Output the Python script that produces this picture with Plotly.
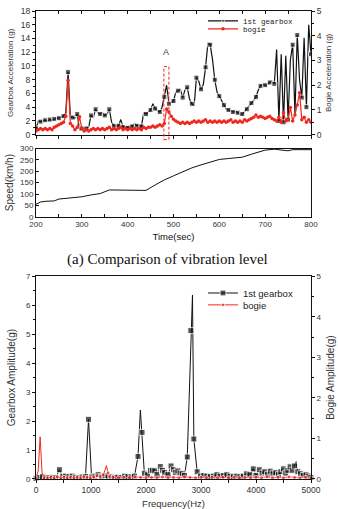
import plotly.graph_objects as go

# ---------------- data ----------------
time_s = list(range(200, 801, 5))
gearbox_acc = [
    0.9, 2.0, 1.9, 2.0, 2.1, 2.0, 2.2, 2.1, 2.3, 2.4,
    2.4, 2.6, 2.7, 3.2, 9.1, 2.6, 2.5, 2.4, 3.0, 0.7,
    0.9, 1.0, 0.9, 1.1, 2.8, 2.5, 3.7, 3.2, 3.0, 3.2,
    2.8, 3.0, 3.7, 1.8, 1.3, 1.2, 1.3, 2.2, 1.1, 1.2,
    1.0, 1.3, 1.2, 1.6, 1.3, 1.4, 1.2, 3.2, 3.0, 3.3,
    3.6, 4.5, 3.8, 3.5, 3.3, 4.0, 5.5, 7.2, 4.5, 4.7,
    4.9, 6.2, 6.4, 6.6, 5.4, 6.5, 6.9, 5.2, 4.5, 4.2,
    8.3, 7.8, 6.6, 7.3, 9.8, 13.3, 13.1, 11.0, 8.0, 6.2,
    5.6, 4.9, 4.3, 3.7, 3.6, 3.5, 3.3, 3.4, 3.2, 3.0,
    3.0, 3.4, 3.7, 4.2, 4.6, 5.0, 5.5, 6.5, 7.1, 7.3,
    7.2, 7.3, 7.6, 7.8, 7.4, 12.4, 2.0, 11.7, 1.8, 11.5,
    2.2, 10.9, 13.1, 3.0, 14.5, 8.0, 5.4, 14.1, 4.0, 16.0,
    11.7,
]
bogie_acc = [
    0.15, 0.2, 0.25, 0.2, 0.25, 0.2, 0.25, 0.2, 0.3, 0.35,
    0.4, 0.45, 0.5, 0.75, 2.2, 0.45, 0.35, 0.2, 0.3, 0.72,
    0.25, 0.15, 0.2, 0.15, 0.2, 0.25, 0.2, 0.25, 0.2, 0.25,
    0.2, 0.25, 0.3, 0.2, 0.25, 0.2, 0.25, 0.3, 0.2, 0.25,
    0.2, 0.25, 0.2, 0.25, 0.2, 0.25, 0.2, 0.3, 0.25, 0.3,
    0.3, 0.35, 0.3, 0.35, 0.4, 0.35, 0.45, 1.04, 0.92, 0.75,
    0.62, 0.55, 0.5, 0.45, 0.5, 0.45, 0.5, 0.45, 0.5, 0.55,
    0.5, 0.55, 0.5, 0.55, 0.6, 0.5, 0.55, 0.5, 0.55, 0.5,
    0.55, 0.5, 0.55, 0.5, 0.55, 0.6, 0.5, 0.55, 0.5, 0.55,
    0.5, 0.6, 0.55, 0.6, 0.65, 0.7, 0.8, 0.7, 0.75, 0.7,
    0.65, 0.7, 0.75, 0.65, 0.6, 0.55, 0.7, 0.5, 0.9, 0.55,
    0.6, 1.1, 0.55, 0.8, 1.2, 1.7, 0.6, 0.7, 0.5, 0.6,
    0.5,
]
speed_time = [200, 210, 220, 240, 250, 260, 280, 300, 320, 340, 360, 380, 400, 420,
              440, 460, 480, 500, 520, 540, 560, 580, 600, 620, 640, 650, 670, 690,
              700, 720, 740, 750, 760, 780, 800]
speed_kmh = [55, 65, 68, 70, 78, 80, 84, 88, 96, 102, 118, 117, 117, 116,
             116, 140, 162, 180, 198, 215, 228, 240, 252, 256, 258, 262, 275, 287,
             293, 297, 293, 290, 295, 296, 295]

fft_freq_gear = [0, 60, 120, 180, 240, 300, 360, 425, 480, 540, 600, 660, 720, 780, 840,
                 900, 955, 1010, 1070, 1130, 1190, 1250, 1310, 1370, 1430, 1490, 1550,
                 1610, 1670, 1730, 1790, 1855, 1898, 1928, 1970, 2030, 2080, 2120, 2160,
                 2200, 2260, 2300, 2340, 2400, 2455, 2500, 2540, 2580, 2620, 2660, 2700,
                 2750, 2815, 2845, 2870, 2930, 2990, 3050, 3110, 3170, 3230, 3290, 3350,
                 3410, 3470, 3530, 3590, 3650, 3710, 3770, 3830, 3890, 3950, 4000, 4060,
                 4110, 4160, 4210, 4260, 4310, 4360, 4410, 4450, 4500, 4540, 4580, 4620,
                 4660, 4700, 4730, 4760, 4810, 4860, 4910, 4960, 5000]
fft_gear_amp = [0.02, 0.05, 0.08, 0.05, 0.05, 0.06, 0.05, 0.32, 0.08, 0.1, 0.08, 0.1, 0.06, 0.05, 0.07,
                0.09, 2.06, 0.07, 0.1, 0.15, 0.08, 0.12, 0.1, 0.08, 0.05, 0.06, 0.05,
                0.1, 0.08, 0.07, 0.1, 0.78, 2.38, 1.61, 0.2, 0.15, 0.3, 0.3, 0.28,
                0.15, 0.43, 0.3, 0.22, 0.15, 0.45, 0.32, 0.22, 0.28, 0.2, 0.18, 0.12,
                0.76, 5.12, 6.35, 1.38, 0.25, 0.1, 0.12, 0.1, 0.08, 0.1, 0.15, 0.1,
                0.12, 0.15, 0.1, 0.08, 0.1, 0.08, 0.1, 0.18, 0.15, 0.35, 0.12, 0.32,
                0.2, 0.25, 0.15, 0.27, 0.18, 0.22, 0.15, 0.25, 0.35, 0.2, 0.3, 0.42,
                0.3, 0.45, 0.6, 0.25, 0.18, 0.12, 0.15, 0.1, 0.05]
fft_gear_peaks_unmarked = [1898, 2845, 4730]

fft_freq_bogie = [0, 40, 75, 110, 150, 210, 270, 330, 390, 450, 510, 570, 630, 690, 750, 810,
                  870, 930, 990, 1050, 1110, 1170, 1220, 1250, 1280, 1310, 1340, 1400, 1500,
                  1600, 1700, 1800, 1900, 2000, 2100, 2200, 2300, 2400, 2500, 2600, 2700,
                  2800, 2900, 3000, 3100, 3200, 3300, 3400, 3500, 3600, 3700, 3800, 3900,
                  4000, 4100, 4200, 4300, 4400, 4500, 4600, 4700, 4800, 4900, 5000]
fft_bogie_amp = [0.02, 0.2, 1.04, 0.15, 0.03, 0.03, 0.04, 0.03, 0.05, 0.03, 0.04, 0.03, 0.04, 0.03, 0.04, 0.03,
                 0.05, 0.04, 0.03, 0.05, 0.08, 0.06, 0.1, 0.2, 0.33, 0.15, 0.06, 0.04, 0.03,
                 0.04, 0.03, 0.05, 0.04, 0.03, 0.04, 0.03, 0.05, 0.03, 0.04, 0.03, 0.05,
                 0.04, 0.03, 0.04, 0.03, 0.04, 0.03, 0.04, 0.03, 0.04, 0.03, 0.04, 0.03,
                 0.04, 0.03, 0.05, 0.03, 0.04, 0.03, 0.05, 0.04, 0.03, 0.04, 0.03]
fft_bogie_peaks_unmarked = [40, 75, 110, 1250, 1280]

TIME_RANGE = [200, 800]
GEAR_RANGE = [0, 18]
BOGIE_RANGE = [0, 5]
SPEED_RANGE = [0, 300]
FREQ_RANGE = [0, 5000]
FFT_GEAR_RANGE = [0, 7]
FFT_BOGIE_RANGE = [0, 5]
highlight_window = [479, 490]   # time window "A"
highlight_top = 9.9             # gearbox scale

# ---------------- styles ----------------
BLACK = "#111111"
RED = "#f0281e"
TXT = "#333333"
SANS = "Liberation Sans, Arial, sans-serif"
MONO = "Liberation Mono, Courier New, monospace"
SERIF = "Liberation Serif, Times New Roman, serif"

W, H = 338, 509
ML, MR, MT, MB = 36, 27, 6, 30
PH = H - MT - MB


def ydom(top_px, bot_px):
    return [(H - MB - bot_px) / PH, (H - MB - top_px) / PH]


gear_sizes = [5 if i % 2 == 0 else 0 for i in range(len(time_s))]
fft_gear_sizes = [0 if f in fft_gear_peaks_unmarked else 6 for f in fft_freq_gear]
fft_bogie_sizes = [0 if f in fft_bogie_peaks_unmarked else 4 for f in fft_freq_bogie]

fig = go.Figure()

fig.add_trace(go.Scatter(x=time_s, y=gearbox_acc, name="1st gearbox", mode="lines+markers",
                         line=dict(color=BLACK, width=1.2),
                         marker=dict(symbol="square", size=gear_sizes, color=BLACK),
                         xaxis="x", yaxis="y", legend="legend"))
fig.add_trace(go.Scatter(x=time_s, y=bogie_acc, name="bogie", mode="lines+markers",
                         line=dict(color=RED, width=1.2),
                         marker=dict(symbol="circle", size=3.5, color=RED),
                         xaxis="x", yaxis="y2", legend="legend2"))
fig.add_trace(go.Scatter(x=[], y=[], xaxis="x4", yaxis="y", showlegend=False, hoverinfo="skip"))
fig.add_trace(go.Scatter(x=speed_time, y=speed_kmh, mode="lines", line=dict(color=BLACK, width=1),
                         xaxis="x2", yaxis="y3", showlegend=False))
fig.add_trace(go.Scatter(x=fft_freq_gear, y=fft_gear_amp, name="1st gearbox", mode="lines+markers",
                         line=dict(color=BLACK, width=1),
                         marker=dict(symbol="square", size=fft_gear_sizes, color=BLACK),
                         xaxis="x3", yaxis="y4", legend="legend3", cliponaxis=False))
fig.add_trace(go.Scatter(x=fft_freq_bogie, y=fft_bogie_amp, name="bogie", mode="lines+markers",
                         line=dict(color=RED, width=1),
                         marker=dict(symbol="circle", size=fft_bogie_sizes, color=RED),
                         xaxis="x3", yaxis="y5", legend="legend4", cliponaxis=False))

tickfont = dict(family=SANS, size=8, color=TXT)
base_ax = dict(showgrid=False, zeroline=False, showline=True, linecolor=BLACK, linewidth=1,
               tickcolor=BLACK, tickwidth=1, ticklen=3, tickfont=tickfont, automargin=False)

top_dom = ydom(6, 131)
speed_dom = ydom(145, 214)
fft_dom = ydom(274, 479)

fig.update_layout(
    template="none",
    width=W, height=H,
    margin=dict(l=ML, r=MR, t=MT, b=MB),
    paper_bgcolor="white", plot_bgcolor="white",
    xaxis=dict(base_ax, domain=[0, 1], anchor="y", range=TIME_RANGE, ticks="outside",
               tick0=200, dtick=50, showticklabels=False),
    xaxis4=dict(base_ax, overlaying="x", side="top", anchor="y", range=TIME_RANGE,
                ticks="inside", tick0=200, dtick=50, showticklabels=False),
    yaxis=dict(base_ax, domain=top_dom, anchor="x", range=GEAR_RANGE, dtick=2, ticks="outside",
               tickfont=dict(family=SANS, size=8.5, color=TXT),
               minor=dict(ticks="outside", dtick=1, ticklen=2, tickcolor=BLACK),
               title=dict(text="Gearbox Acceleration (g)", font=dict(family=SANS, size=8, color=TXT),
                          standoff=6)),
    yaxis2=dict(base_ax, overlaying="y", side="right", anchor="x", range=BOGIE_RANGE, dtick=1,
                ticks="outside", tickfont=dict(family=SANS, size=8.5, color=TXT),
                minor=dict(ticks="outside", dtick=0.5, ticklen=2, tickcolor=BLACK),
                title=dict(text="Bogie Acceleration (g)", font=dict(family=SANS, size=8, color=TXT),
                           standoff=4)),
    xaxis2=dict(base_ax, domain=[0, 1], anchor="y3", range=TIME_RANGE, dtick=100, ticks="inside",
                mirror=True, minor=dict(ticks="inside", dtick=50, ticklen=3, tickcolor=BLACK),
                title=dict(text="Time(sec)", font=dict(family=SANS, size=9.5, color="#111"), standoff=4)),
    yaxis3=dict(base_ax, domain=speed_dom, anchor="x2", range=SPEED_RANGE, dtick=50, ticks="inside",
                mirror=True,
                title=dict(text="Speed(km/h)", font=dict(family=SANS, size=10, color=TXT), standoff=4)),
    xaxis3=dict(base_ax, domain=[0, 1], anchor="y4", range=FREQ_RANGE, dtick=1000, ticks="outside",
                mirror=True, tickfont=dict(family=SANS, size=8.5, color=TXT),
                minor=dict(ticks="outside", dtick=500, ticklen=3, tickcolor=BLACK),
                title=dict(text="Frequency(Hz)", font=dict(family=SANS, size=9.5, color=TXT), standoff=6)),
    yaxis4=dict(base_ax, domain=fft_dom, anchor="x3", range=FFT_GEAR_RANGE, dtick=1, ticks="outside",
                minor=dict(ticks="outside", dtick=0.5, ticklen=2, tickcolor=BLACK),
                title=dict(text="Gearbox Amplitude(g)", font=dict(family=SANS, size=10, color=TXT),
                           standoff=8)),
    yaxis5=dict(base_ax, overlaying="y4", side="right", anchor="x3", range=FFT_BOGIE_RANGE, dtick=1,
                ticks="outside", minor=dict(ticks="outside", dtick=0.5, ticklen=2, tickcolor=BLACK),
                title=dict(text="Bogie Amplitude(g)", font=dict(family=SANS, size=10, color=TXT),
                           standoff=6)),
)

leg_common = dict(bgcolor="rgba(0,0,0,0)", borderwidth=0, xanchor="left", yanchor="middle",
                  itemwidth=30, tracegroupgap=0)
lx = (203 - ML) / (W - ML - MR)
fig.update_layout(
    legend=dict(leg_common, x=lx, y=(H - MB - 16) / PH, font=dict(family=MONO, size=7.5, color="#222")),
    legend2=dict(leg_common, x=lx, y=(H - MB - 24) / PH, font=dict(family=MONO, size=7.5, color="#222")),
    legend3=dict(leg_common, x=lx, y=(H - MB - 291) / PH, font=dict(family=SANS, size=9.5, color="#222")),
    legend4=dict(leg_common, x=lx, y=(H - MB - 303) / PH, font=dict(family=SANS, size=9.5, color="#222")),
)

# highlight window "A"
span = TIME_RANGE[1] - TIME_RANGE[0]
fig.add_shape(type="rect", xref="x domain", yref="y domain",
              x0=(highlight_window[0] - TIME_RANGE[0]) / span,
              x1=(highlight_window[1] - TIME_RANGE[0]) / span,
              y0=-0.04, y1=highlight_top / GEAR_RANGE[1],
              line=dict(color=RED, width=1, dash="3px,2px"))
fig.add_annotation(x=sum(highlight_window) / 2, y=12.0, xref="x", yref="y", text="A",
                   showarrow=False, font=dict(family=SANS, size=9, color="#444"))
fig.add_annotation(x=(167.5 - ML) / (W - ML - MR), y=(H - MB - 257) / PH, xref="paper", yref="paper",
                   text="(a) Comparison of vibration level", showarrow=False,
                   font=dict(family=SERIF, size=15, color="#111"))

fig.write_html("out.html")
